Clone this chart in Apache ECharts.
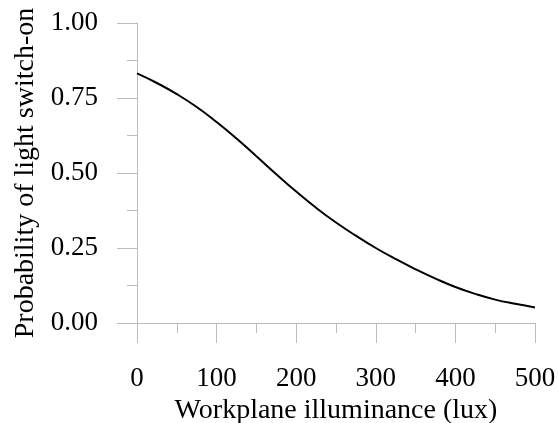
<!DOCTYPE html>
<html>
<head>
<meta charset="utf-8">
<style>
  html, body { margin: 0; padding: 0; background: #fff; }
  #chart { width: 558px; height: 423px; }
</style>
<script src="https://cdn.jsdelivr.net/npm/echarts@6/dist/echarts.min.js"></script>
</head>
<body>
<div id="chart"></div>
<script>
// illuminance (lux) and probability
const illuminance = [0, 25, 50, 75, 100, 125, 150, 175, 200, 225, 250,
  275, 300, 325, 350, 375, 400, 425, 450, 475, 500]
const probability = [0.832, 0.800, 0.763, 0.720, 0.670, 0.615, 0.556, 0.496, 0.438, 0.384, 0.335,
  0.291, 0.250, 0.213, 0.179, 0.148, 0.120, 0.097, 0.078, 0.064, 0.052]

const axisColor = '#bdbdbd'
const font = 'Liberation Serif'

const chart = echarts.init(document.getElementById('chart'))

const option = {
  animation: false,
  grid: { left: 137, right: 23, top: 23, bottom: 100, outerBoundsMode: 'none' },
  xAxis: {
    type: 'value',
    min: 0,
    max: 500,
    interval: 100,
    offset: 10,
    name: 'Workplane illuminance (lux)',
    nameLocation: 'middle',
    nameGap: 63,
    nameTextStyle: { fontFamily: font, fontSize: 28, color: '#000' },
    axisLine: { show: true, lineStyle: { color: axisColor, width: 1 } },
    axisTick: { show: true, length: 20, lineStyle: { color: axisColor } },
    minorTick: { show: true, splitNumber: 2, length: 10, lineStyle: { color: axisColor } },
    axisLabel: { margin: 32, fontFamily: font, fontSize: 27, color: '#000' },
    splitLine: { show: false }
  },
  yAxis: {
    type: 'value',
    min: 0,
    max: 1,
    interval: 0.25,
    offset: 10,
    name: 'Probability of light switch-on',
    nameLocation: 'middle',
    nameGap: 86,
    nameTextStyle: { fontFamily: font, fontSize: 28, color: '#000' },
    axisLine: { show: true, lineStyle: { color: axisColor, width: 1 } },
    axisTick: { show: true, length: 20, lineStyle: { color: axisColor } },
    minorTick: { show: true, splitNumber: 2, length: 10, lineStyle: { color: axisColor } },
    axisLabel: {
      margin: 29,
      fontFamily: font,
      fontSize: 27,
      color: '#000',
      formatter: v => v.toFixed(2)
    },
    splitLine: { show: false }
  },
  series: [
    {
      type: 'line',
      data: illuminance.map((x, i) => [x, probability[i]]),
      smooth: 0.5,
      symbol: 'none',
      lineStyle: { color: '#000', width: 2 }
    }
  ]
}

chart.setOption(option)
</script>
</body>
</html>
